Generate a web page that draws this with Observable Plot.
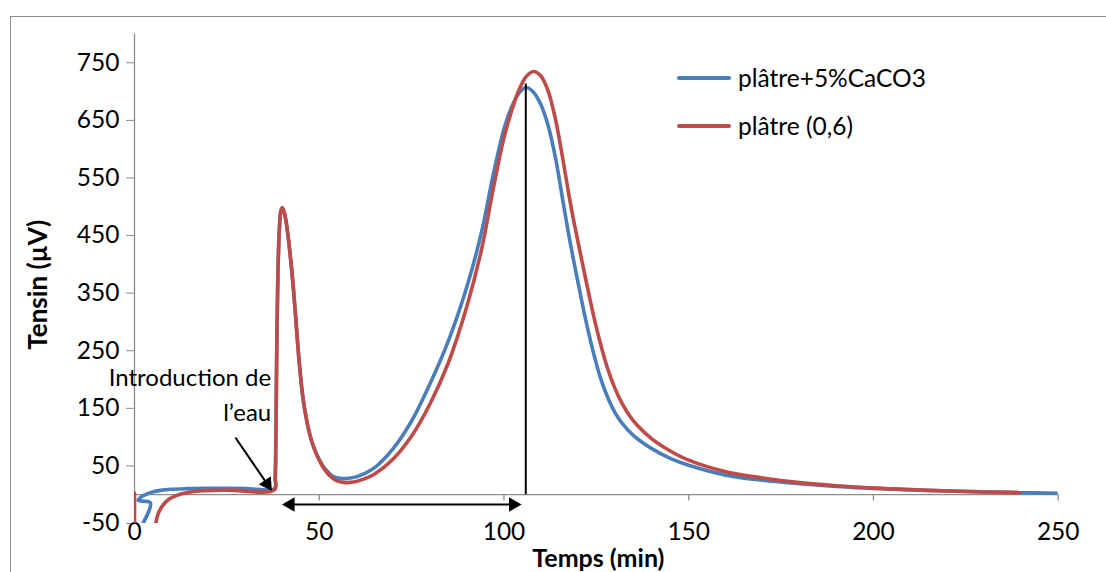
<!DOCTYPE html>
<html><head><meta charset="utf-8">
<script src="https://cdn.jsdelivr.net/npm/d3@7"></script>
<script src="https://cdn.jsdelivr.net/npm/@observablehq/plot@0.6"></script>
<style>
body{margin:0;background:#fff;}
#wrap{position:relative;width:1106px;height:572px;overflow:hidden;font-family:Lato,sans-serif;}
#border{position:absolute;left:10px;top:16px;width:1200px;height:700px;border:1.3px solid #8c8c8c;box-sizing:border-box;pointer-events:none}
#chart{position:absolute;left:0;top:0}
.leg{position:absolute;left:677px;font-size:24.5px;display:flex;align-items:center;white-space:nowrap;color:#000}
.leg span.sw{display:inline-block;width:54px;height:4px;border-radius:2px;margin-right:7px}
</style></head><body>
<div id="wrap"><div id="border"></div><div id="chart"></div>
<div class="leg" id="leg1" style="top:63px"></div>
<div class="leg" id="leg2" style="top:111px"></div>
</div>
<script>
// ---- data (time in min, tension in µV) ----
const seriesNames = ["plâtre+5%CaCO3", "plâtre (0,6)"];
const seriesColors = ["#4A7EBB", "#BE4B48"];

const blueTime = [1.4,4.3,1.0,1.8,3,4.5,7,10,14,20,30,37.9,38.1,38.3,38.5,38.8,39.2,39.6,40,40.5,41,41.5,42,42.5,43,43.5,44,44.5,45,45.5,46,46.5,47,48,49,50,51,52,53,54,55,56.4,58,60,62,65,70,75,80,85,90,94,97,100,102,104,106,108,110,112,114,116,118,120,122,124,126,128,130,132,135,140,145,150,160,170,180,190,200,220,240,250];
const blueValue = [-60,-14,-10,-4,0,4,7.5,9.5,10.5,11,10.8,10.5,30,120,250,380,460,492,498,490,475,452,424,393,358,318,275,235,201,172,150,132,116,92,75,61,50,42,35.5,31,29,28,28.5,31,36,47,80,128,193,268,362,458,553,635,672,697,707,699,677,640,583,508,435,370,307,252,205,170,143,124,103,80,63,51,34,25,19,14.5,11,6.5,3.5,2.5];

const redTime = [0,0,2,5.5,6.3,7.6,9.3,11.3,14,17.6,25,37.9,38.1,38.3,38.5,38.8,39.2,39.6,40,40.5,41,41.5,42,42.5,43,43.5,44,44.5,45,45.5,46,46.5,47,48,49,50,51,52,53,54,55,56.9,58.5,60,62,65,70,75,80,85,90,94,97,100,102,104,106,108,110,112,114,116,118,120,122,124,126,128,130,132,134,136,140,145,150,160,170,180,190,200,220,239.5];
const redValue = [3,-60,null,-62,-35,-19,-8,-1.5,3.5,6.5,8,8.5,30,120,250,380,460,492,498,491,476,453,425,394,359,319,276,236,202,173,151,133,117,92,74,60,48,39,32,27,23.5,21,21.5,23,27,36,62,102,158,230,328,428,528,620,665,702,726,735,727,700,650,580,505,440,378,318,265,220,185,158,137,121,97,76,60,40,29,21,15.5,11.5,6.5,3.5];

const xTicks = [0,50,100,150,200,250];
const yTicks = [-50,50,150,250,350,450,550,650,750];

const blue = blueTime.map((t,i)=>({t, v: blueValue[i]}));
const red = redTime.map((t,i)=>({t, v: redValue[i]}));

// annotations (data coordinates)
const peakTime = 105.9, peakTop = 713;
const spanStart = 40, spanEnd = 104.7, spanLevel = -17;
const noteLines = ["Introduction de", "l’eau"];
const noteY = [201.8, 141];
const noteX = 37.0;
const arrowFrom = {t: 27.3, v: 99.3}, arrowHead = {t: 35.9, v: 18.8};

const axisGray = "#8c8c8c";

const chart = Plot.plot({
  width: 1106, height: 572,
  marginLeft: 134, marginRight: 48.3, marginTop: 33.5, marginBottom: 49,
  x: {domain: [0, 250]},
  y: {domain: [-50, 800]},
  style: {fontFamily: "Lato, sans-serif", fontSize: "24.5px", color: "#000", background: "transparent", overflow: "visible"},
  marks: [
    Plot.ruleX([0], {stroke: axisGray, strokeWidth: 1.3}),
    Plot.ruleY([0], {stroke: axisGray, strokeWidth: 1.3}),
    Plot.ruleX(xTicks, {x: d => d, y1: 0, y2: -50, insetBottom: 22.5, stroke: axisGray, strokeWidth: 1.3}),
    Plot.axisY({ticks: yTicks, tickFormat: d => String(d), tickSize: 8, tickPadding: 7, stroke: axisGray, fill: "#000", label: null, fontSize: 24.5}),
    Plot.axisX({ticks: xTicks, tickFormat: d => String(d), tickSize: 0, tickPadding: 0, dy: -1, label: null, fill: "#000", fontSize: 24.5}),
    Plot.line(blue, {x: "t", y: "v", stroke: seriesColors[0], strokeWidth: 3.6, curve: "catmull-rom", clip: true}),
    Plot.line(red, {x: "t", y: "v", stroke: seriesColors[1], strokeWidth: 3.6, curve: "catmull-rom", clip: true}),
    // vertical marker at main peak
    Plot.ruleX([peakTime], {x: d => d, y1: 0, y2: peakTop, stroke: "#000", strokeWidth: 2}),
    // double-headed span arrow
    Plot.ruleY([spanLevel], {y: d => d, x1: spanStart + 2.4, x2: spanEnd - 2.4, stroke: "#000", strokeWidth: 2.2}),
    Plot.dot([{t: spanStart + 2.2, r: -90}, {t: spanEnd - 2.2, r: 90}], {x: "t", y: () => spanLevel, symbol: "triangle", r: 5.4, fill: "#000", stroke: "none", rotate: "r"}),
    // "Introduction de l'eau" arrow
    Plot.link([0], {x1: () => arrowFrom.t, y1: () => arrowFrom.v, x2: () => arrowHead.t, y2: () => arrowHead.v, stroke: "#000", strokeWidth: 2}),
    Plot.dot([0], {x: () => arrowHead.t, y: () => arrowHead.v, symbol: "triangle", r: 5.4, fill: "#000", stroke: "none", rotate: 146}),
    Plot.text(noteLines, {x: () => noteX, y: (d, i) => noteY[i], text: d => d, textAnchor: "end", fontSize: 24, fill: "#000"}),
    // axis titles
    Plot.text(["Tensin (µV)"], {frameAnchor: "left", textAnchor: "middle", lineAnchor: "middle", rotate: -90, dx: -96, dy: 6, fontWeight: "bold", fontSize: 26, fill: "#000"}),
    Plot.text(["Temps (min)"], {frameAnchor: "bottom", textAnchor: "middle", lineAnchor: "middle", dx: 2, dy: 35, fontWeight: "bold", fontSize: 25, fill: "#000"})
  ]
});
document.getElementById("chart").appendChild(chart);

[["leg1", 0], ["leg2", 1]].forEach(([id, i]) => {
  const el = document.getElementById(id);
  const sw = document.createElement("span");
  sw.className = "sw"; sw.style.background = seriesColors[i];
  const tx = document.createElement("span");
  tx.textContent = seriesNames[i];
  el.appendChild(sw); el.appendChild(tx);
});
</script>
</body></html>
